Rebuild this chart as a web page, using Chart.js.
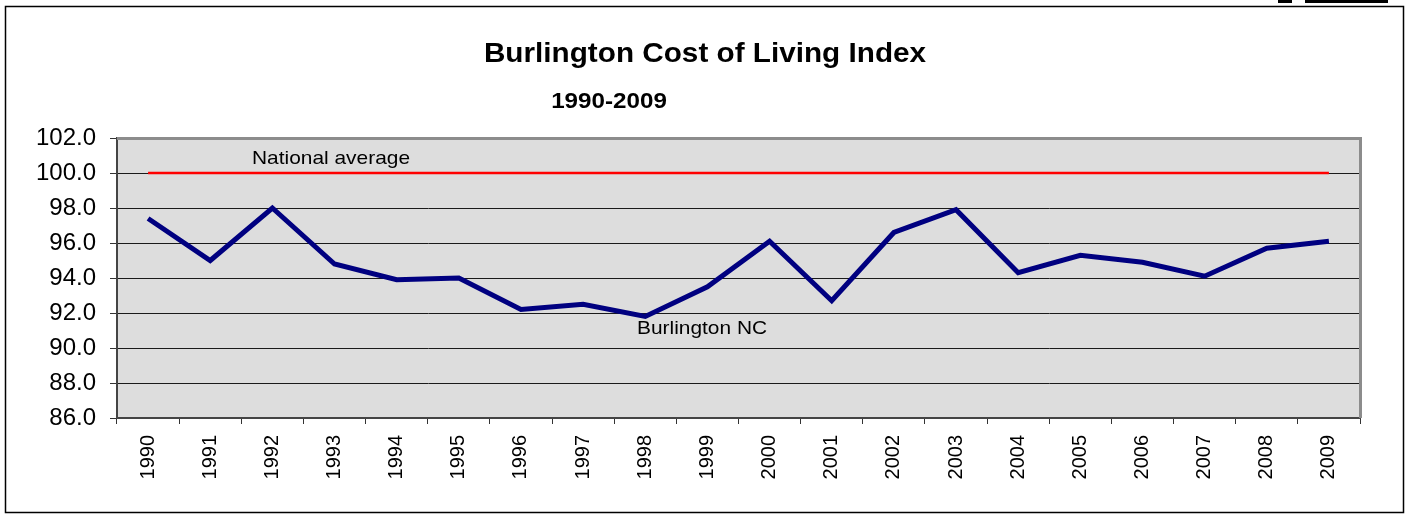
<!DOCTYPE html>
<html>
<head>
<meta charset="utf-8">
<script src="https://cdn.jsdelivr.net/npm/chart.js@4.4.1/dist/chart.umd.min.js"></script>
<style>
  html, body { margin: 0; padding: 0; background: #ffffff; }
  #wrap { position: relative; width: 1405px; height: 514px; }
  canvas { display: block; }
  .mark { position: absolute; top: 0; height: 3px; background: #000; }
</style>
</head>
<body>
<div id="wrap">
  <canvas id="c" width="1405" height="514"></canvas>
  <div class="mark" style="left:1278px;width:14px;"></div>
  <div class="mark" style="left:1305px;width:83px;"></div>
</div>
<script>
// ---- data ----
const years = ["1990","1991","1992","1993","1994","1995","1996","1997","1998","1999",
               "2000","2001","2002","2003","2004","2005","2006","2007","2008","2009"];
const burlington = [97.4, 95.0, 98.0, 94.8, 93.9, 94.0, 92.2, 92.5, 91.8, 93.5,
                    96.1, 92.7, 96.6, 97.9, 94.3, 95.3, 94.9, 94.1, 95.7, 96.1];
const nationalAverage = [100, 100, 100, 100, 100, 100, 100, 100, 100, 100,
                         100, 100, 100, 100, 100, 100, 100, 100, 100, 100];
const yTicks = [86, 88, 90, 92, 94, 96, 98, 100, 102];
const titleText = "Burlington Cost of Living Index";
const subtitleText = "1990-2009";
const seriesLabels = ["National average", "Burlington NC"];

const FONT = "'Liberation Sans', Arial, Helvetica, sans-serif";

function stretchedText(ctx, text, x, y, font, align, sx) {
  ctx.save();
  ctx.font = font;
  ctx.fillStyle = "#000";
  ctx.textBaseline = "alphabetic";
  const w = ctx.measureText(text).width * sx;
  let left = x;
  if (align === "center") left = x - w / 2;
  ctx.translate(left, y);
  ctx.scale(sx, 1);
  ctx.textAlign = "left";
  ctx.fillText(text, 0, 0);
  ctx.restore();
}

const decor = {
  id: "decor",
  beforeDraw(chart) {
    const ctx = chart.ctx;
    const a = chart.chartArea;
    ctx.save();
    ctx.fillStyle = "#ffffff";
    ctx.fillRect(0, 0, chart.width, chart.height);
    ctx.strokeStyle = "#000";
    ctx.lineWidth = 1.5;
    ctx.strokeRect(5.5, 6.5, 1398, 506);
    ctx.fillStyle = "#dddddd";
    ctx.fillRect(a.left, a.top, a.right - a.left, a.bottom - a.top);
    ctx.restore();
  },
  beforeDatasetsDraw(chart) {
    const ctx = chart.ctx;
    const a = chart.chartArea;
    ctx.save();
    ctx.strokeStyle = "#8c8c8c";
    ctx.lineWidth = 3;
    ctx.beginPath();
    ctx.moveTo(a.left, a.top + 0.5);
    ctx.lineTo(a.right + 0.5, a.top + 0.5);
    ctx.lineTo(a.right + 0.5, a.bottom);
    ctx.stroke();
    ctx.restore();
  },
  afterDraw(chart) {
    const ctx = chart.ctx;
    stretchedText(ctx, titleText, 705, 62, "bold 27px " + FONT, "center", 1.1);
    stretchedText(ctx, subtitleText, 609, 108, "bold 22px " + FONT, "center", 1.1);
    stretchedText(ctx, seriesLabels[0], 252, 164, "19px " + FONT, "left", 1.1);
    stretchedText(ctx, seriesLabels[1], 637, 334, "19px " + FONT, "left", 1.1);
  }
};

new Chart(document.getElementById("c"), {
  type: "line",
  data: {
    labels: years,
    datasets: [
      {
        label: seriesLabels[0],
        data: nationalAverage,
        borderColor: "#ff0000",
        borderWidth: 2.5,
        pointRadius: 0,
        tension: 0,
        fill: false
      },
      {
        label: seriesLabels[1],
        data: burlington,
        borderColor: "#000080",
        borderWidth: 5,
        pointRadius: 0,
        tension: 0,
        fill: false,
        borderJoinStyle: "miter"
      }
    ]
  },
  options: {
    responsive: false,
    animation: false,
    devicePixelRatio: 1,
    layout: { padding: { top: 138, right: 45, left: 0, bottom: 0 } },
    plugins: {
      legend: { display: false },
      title: { display: false },
      tooltip: { enabled: false }
    },
    scales: {
      x: {
        type: "category",
        offset: true,
        afterFit(scale) { scale.height = 96; },
        grid: {
          offset: true,
          drawOnChartArea: false,
          drawTicks: true,
          tickLength: 6,
          tickColor: "#333",
          tickWidth: 1
        },
        border: { display: true, color: "#444", width: 2 },
        ticks: {
          minRotation: 90,
          maxRotation: 90,
          autoSkip: false,
          padding: 11,
          color: "#000",
          font: { family: FONT, size: 20 }
        }
      },
      y: {
        min: 86,
        max: 102,
        afterFit(scale) { scale.width = 117; },
        afterBuildTicks(scale) { scale.ticks = yTicks.map(v => ({ value: v })); },
        grid: {
          color: (c) => (c.tick && c.tick.value === 102 ? "#8c8c8c" : "#1a1a1a"),
          lineWidth: 1,
          drawTicks: true,
          tickLength: 7,
          tickColor: "#333"
        },
        border: { display: true, color: "#444", width: 2 },
        ticks: {
          padding: 14,
          color: "#000",
          font: { family: FONT, size: 24 },
          callback: (v) => Number(v).toFixed(1)
        }
      }
    }
  },
  plugins: [decor]
});
</script>
</body>
</html>
